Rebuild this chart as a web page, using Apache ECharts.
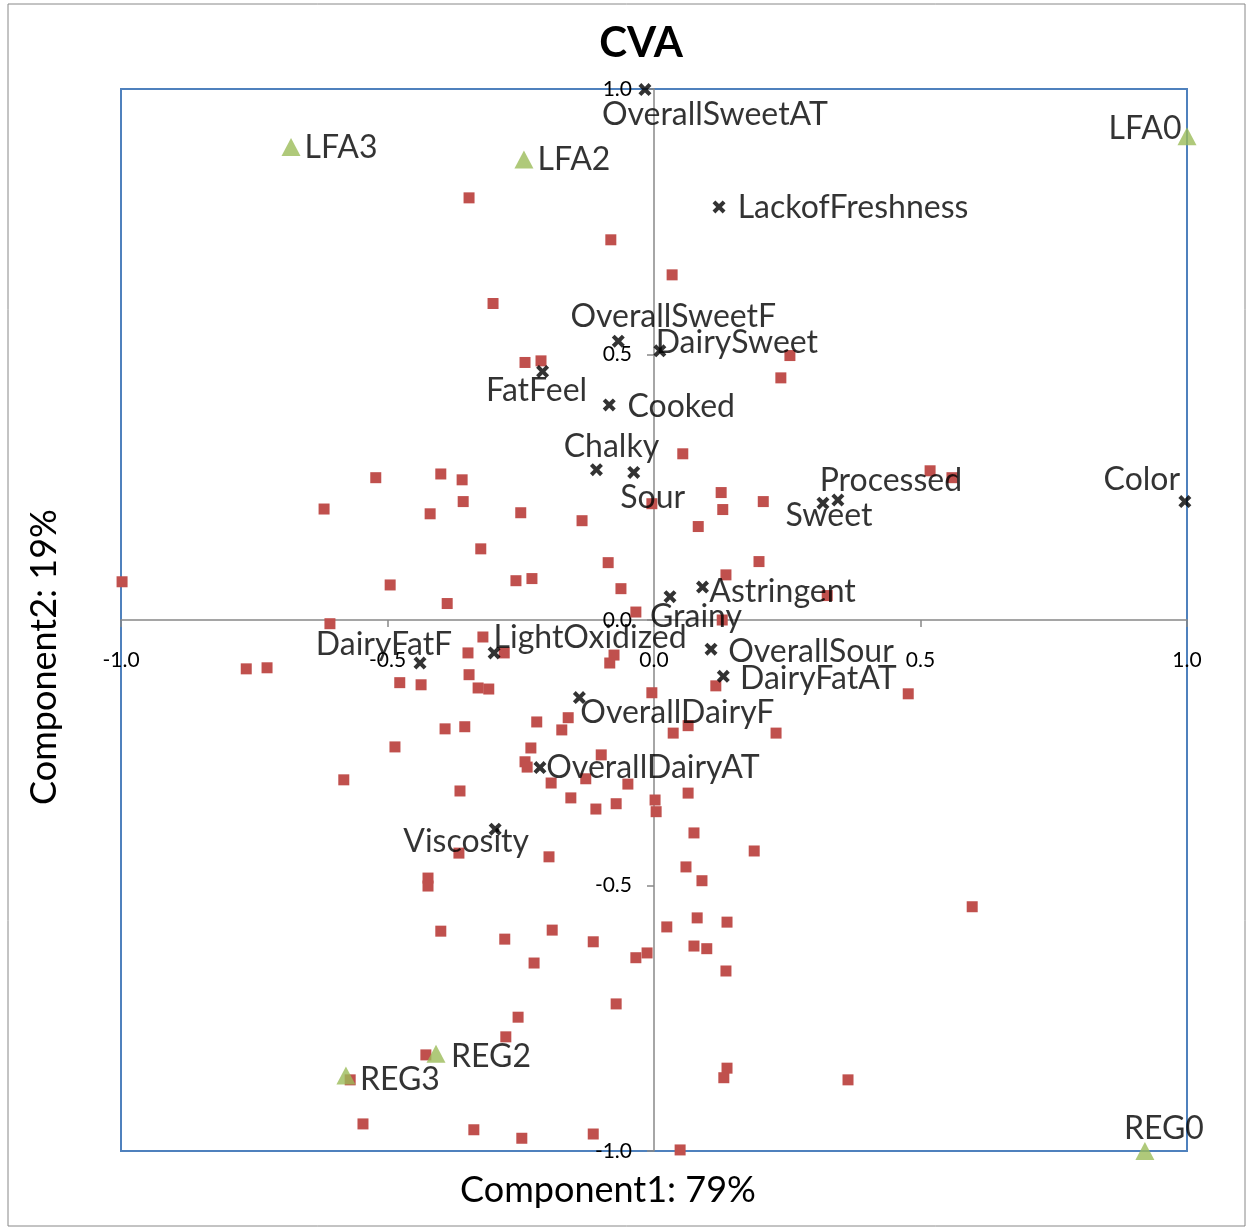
<!DOCTYPE html>
<html>
<head>
<meta charset="utf-8">
<title>CVA</title>
<script src="https://cdn.jsdelivr.net/npm/echarts@6/dist/echarts.min.js"></script>
<style>
  html, body { margin: 0; padding: 0; background: #fff; }
  #chart { width: 1249px; height: 1230px; }
</style>
</head>
<body>
<div id="chart"></div>
<script>
// products (green triangles)
var productNames = ["LFA3", "LFA2", "LFA0", "REG2", "REG3", "REG0"];
var productX = [-0.681, -0.244, 1.0, -0.409, -0.578, 0.921];
var productY = [0.891, 0.867, 0.911, -0.817, -0.858, -1.0];

// attributes (black crosses)
var attrNames = ["OverallSweetAT", "LackofFreshness", "OverallSweetF", "DairySweet", "FatFeel",
  "Cooked", "Chalky", "Sour", "Processed", "Sweet", "Color", "Astringent", "Grainy",
  "LightOxidized", "DairyFatF", "OverallSour", "DairyFatAT", "OverallDairyF",
  "OverallDairyAT", "Viscosity"];
var attrX = [-0.017, 0.122, -0.067, 0.011, -0.209, -0.084, -0.108, -0.038, 0.345, 0.317,
  0.996, 0.091, 0.030, -0.300, -0.439, 0.107, 0.130, -0.140, -0.214, -0.298];
var attrY = [0.999, 0.778, 0.525, 0.507, 0.468, 0.405, 0.283, 0.278, 0.226, 0.220,
  0.223, 0.062, 0.044, -0.062, -0.081, -0.055, -0.106, -0.146, -0.278, -0.394];

// panelist / replicate scores (red squares)
var obsX = [-0.347, -0.081, 0.034, -0.302, 0.255, -0.242, -0.212, 0.238, 0.054, 0.126,
  0.129, 0.205, -0.004, 0.083, -0.250, -0.135, -0.325, -0.086, -0.259, -0.229,
  -0.062, 0.197, 0.135, 0.325, -0.034, 0.128, -0.998, -0.619, -0.522, -0.400,
  -0.360, -0.358, -0.420, -0.495, -0.388, -0.608, 0.518, 0.559, -0.765, -0.726,
  -0.477, -0.437, -0.349, -0.347, -0.392, -0.355, -0.486, -0.582, -0.364, -0.366,
  -0.424, -0.424, -0.321, -0.281, -0.075, -0.083, -0.330, -0.310, -0.004, 0.116,
  -0.220, -0.161, -0.173, 0.036, 0.064, 0.229, -0.231, -0.099, -0.242, -0.238,
  -0.128, -0.193, -0.049, -0.156, -0.109, -0.071, 0.002, 0.004, 0.064, 0.075,
  0.188, -0.197, 0.060, 0.090, 0.477, -0.400, -0.428, -0.570, -0.546, -0.338,
  -0.280, -0.191, -0.225, -0.114, -0.034, -0.013, 0.024, 0.081, 0.137, 0.075,
  0.099, 0.135, -0.071, -0.255, -0.278, 0.137, 0.131, -0.248, -0.114, 0.049,
  0.597, 0.364];
var obsY = [0.795, 0.716, 0.650, 0.596, 0.498, 0.485, 0.488, 0.456, 0.313, 0.240,
  0.208, 0.223, 0.219, 0.176, 0.202, 0.187, 0.134, 0.108, 0.074, 0.078,
  0.059, 0.110, 0.085, 0.046, 0.015, 0.000, 0.072, 0.209, 0.268, 0.275,
  0.264, 0.223, 0.200, 0.066, 0.031, -0.007, 0.281, 0.268, -0.092, -0.090,
  -0.118, -0.122, -0.062, -0.103, -0.205, -0.201, -0.239, -0.301, -0.322, -0.439,
  -0.486, -0.501, -0.032, -0.062, -0.066, -0.081, -0.128, -0.130, -0.137, -0.124,
  -0.192, -0.184, -0.207, -0.213, -0.199, -0.213, -0.241, -0.254, -0.267, -0.277,
  -0.299, -0.307, -0.309, -0.335, -0.356, -0.346, -0.339, -0.361, -0.326, -0.401,
  -0.435, -0.446, -0.465, -0.491, -0.139, -0.586, -0.819, -0.866, -0.949, -0.960,
  -0.601, -0.584, -0.646, -0.606, -0.636, -0.627, -0.578, -0.561, -0.569, -0.614,
  -0.619, -0.661, -0.723, -0.748, -0.785, -0.844, -0.862, -0.976, -0.968, -0.998,
  -0.540, -0.866];

// where each data label sits relative to its marker (px)
var productLabelOffset = [[50, 1], [50, 0], [-42, -8], [55, 3], [54, 4], [19, -22]];
var attrLabelOffset = [[70, 25], [134, 1], [55, -25], [77, -8], [-6, 19],
  [72, 2], [15, -23], [19, 25], [53, -19], [6, 13], [-43, -22], [80, 5], [26, 20],
  [96, -15], [-36, -18], [100, 2], [95, 2], [98, 15], [113, 0], [-29, 12]];

var FONT = "Lato";
// bold "x" marker
var crossPath = "path://M0,2.2L2.2,0L5,2.8L7.8,0L10,2.2L7.2,5L10,7.8L7.8,10L5,7.2L2.2,10L0,7.8L2.8,5Z";

var obsData = obsX.map(function (x, i) { return [x, obsY[i]]; });
var attrData = attrNames.map(function (n, i) {
  return { name: n, value: [attrX[i], attrY[i]], label: { offset: attrLabelOffset[i] } };
});
var productData = productNames.map(function (n, i) {
  return { name: n, value: [productX[i], productY[i]], label: { offset: productLabelOffset[i] } };
});

var labelStyle = {
  show: true,
  position: "inside",
  formatter: "{b}",
  color: "#000",
  fontFamily: FONT,
  fontSize: 32
};

var gridLeft = 121, gridTop = 89, gridW = 1066, gridH = 1062;

var myChart = echarts.init(document.getElementById("chart"));
var option = {
  backgroundColor: "#fff",
  animation: false,
  grid: {
    left: gridLeft, top: gridTop, width: gridW, height: gridH,
    show: true, borderColor: "#4F81BD", borderWidth: 2, backgroundColor: "transparent"
  },
  xAxis: {
    type: "value", min: -1, max: 1, interval: 0.5,
    // axis crosses at y = 0 (middle of the plot)
    offset: -gridH / 2,
    axisLine: { onZero: false, lineStyle: { color: "#888", width: 1.5 } },
    axisTick: { show: true, length: 7, lineStyle: { color: "#888", width: 1.5 } },
    axisLabel: {
      margin: 30, color: "#000", fontFamily: FONT, fontSize: 21,
      formatter: function (v) { return v.toFixed(1); }
    },
    splitLine: { show: false }
  },
  yAxis: {
    type: "value", min: -1, max: 1, interval: 0.5,
    offset: -gridW / 2,
    axisLine: { onZero: false, lineStyle: { color: "#888", width: 1.5 } },
    axisTick: { show: true, length: 7, lineStyle: { color: "#888", width: 1.5 } },
    axisLabel: {
      margin: 22, color: "#000", fontFamily: FONT, fontSize: 21,
      formatter: function (v) { return v.toFixed(1); }
    },
    splitLine: { show: false }
  },
  graphic: [
    { type: "rect", shape: { x: 8, y: 4, width: 1237, height: 1222 },
      style: { fill: "none", stroke: "#888", lineWidth: 1 }, silent: true, z: -1 },
    { type: "text", x: 641, y: 43,
      style: { text: "CVA", font: "bold 42px " + FONT, fill: "#000", textAlign: "center", textVerticalAlign: "middle" } },
    { type: "text", x: 608, y: 1190,
      style: { text: "Component1: 79%", font: "36px " + FONT, fill: "#000", textAlign: "center", textVerticalAlign: "middle" } },
    { type: "text", x: 44, y: 657, rotation: Math.PI / 2,
      style: { text: "Component2: 19%", font: "36px " + FONT, fill: "#000", textAlign: "center", textVerticalAlign: "middle" } }
  ],
  series: [
    {
      name: "Scores", type: "scatter", data: obsData, clip: false,
      symbol: "rect", symbolSize: 11,
      itemStyle: { color: "#C0504D", opacity: 1 }
    },
    {
      name: "Attributes", type: "scatter", data: attrData, clip: false,
      symbol: crossPath, symbolSize: 13,
      itemStyle: { color: "#000" },
      label: labelStyle
    },
    {
      name: "Products", type: "scatter", data: productData, clip: false,
      symbol: "triangle", symbolSize: [19, 18],
      itemStyle: { color: "#9BBB59" },
      label: labelStyle
    }
  ]
};
myChart.setOption(option);
</script>
</body>
</html>
